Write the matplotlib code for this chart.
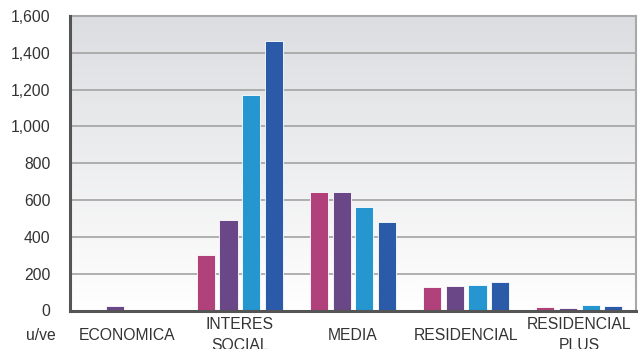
import numpy as np
import matplotlib
matplotlib.use("Agg")
import matplotlib.pyplot as plt
from matplotlib.colors import LinearSegmentedColormap

plt.rcParams['font.family'] = ['Liberation Sans', 'DejaVu Sans']

categories = ["ECONOMICA", "INTERES\nSOCIAL", "MEDIA", "RESIDENCIAL", "RESIDENCIAL\nPLUS"]
series_1 = [0, 303, 645, 128, 20]
series_2 = [22, 493, 645, 134, 16]
series_3 = [0, 1171, 564, 137, 29]
series_4 = [0, 1463, 482, 153, 22]
series = [series_1, series_2, series_3, series_4]
colors = ["#b0417a", "#6a4787", "#2596d0", "#2b5aa8"]
yticks = [0, 200, 400, 600, 800, 1000, 1200, 1400, 1600]
unit_label = "u/ve"

fig = plt.figure(figsize=(6.41, 3.49), dpi=100)
ax = fig.add_axes([70/641, 38.5/349, 566/641, 294.5/349])

x = np.arange(len(categories))
pitch = 0.2
width = 0.16
for k, (vals, c) in enumerate(zip(series, colors)):
    ax.bar(x + (k - 1.5) * pitch, vals, width=width, color=c,
           edgecolor="#ffffff", linewidth=0.6, zorder=3)

ax.set_xlim(-0.5, len(categories) - 0.5)
ax.set_ylim(0, 1600)

grad = LinearSegmentedColormap.from_list("g", ["#ffffff", "#dcdde0"])
ax.imshow(np.linspace(0, 1, 256).reshape(-1, 1), aspect="auto", cmap=grad,
          extent=[-0.5, len(categories) - 0.5, 0, 1600], origin="lower", zorder=0)

ax.set_yticks(yticks)
ax.set_yticklabels([f"{v:,}" for v in yticks], fontsize=11.3, color="#333333")
ax.yaxis.grid(True, color="#a3a3a3", linewidth=1.2, zorder=1)
ax.set_axisbelow(True)
ax.tick_params(axis="y", length=0, pad=14)
ax.set_xticks([])

for s in ["top", "right"]:
    ax.spines[s].set_color("#a8a8a8")
    ax.spines[s].set_linewidth(1.5)
for s in ["left", "bottom"]:
    ax.spines[s].set_color("#555555")
    ax.spines[s].set_linewidth(2.2)
    ax.spines[s].set_zorder(5)

tr = ax.get_xaxis_transform()
for i, lab in enumerate(categories):
    ax.text(i, -24.5/294.5, lab, transform=tr, ha="center", va="center",
            fontsize=11.3, color="#333333", linespacing=1.45)
fig.text(41/641, 1 - 335/349, unit_label, ha="center", va="center",
         fontsize=11.3, color="#333333")

fig.savefig("out.png", dpi=100)
